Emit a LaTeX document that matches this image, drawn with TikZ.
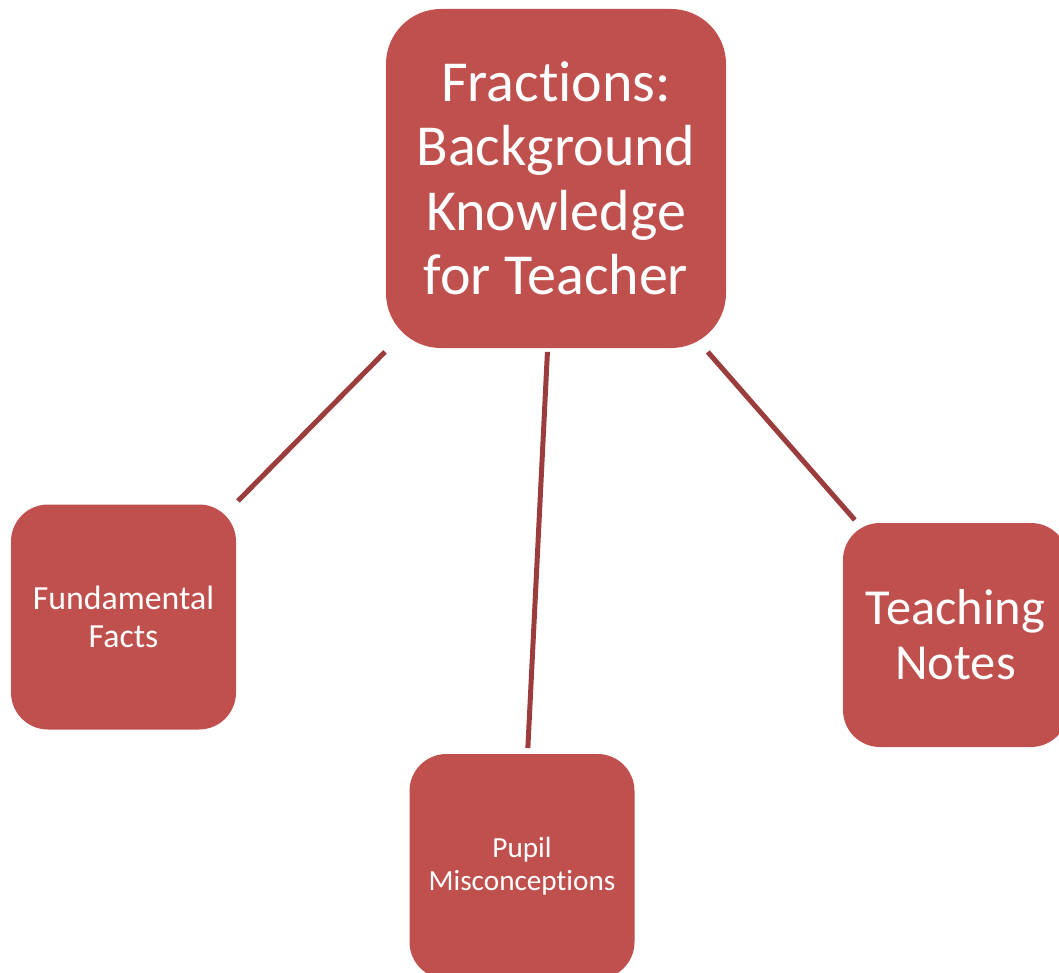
\documentclass[tikz,border=0pt]{standalone}
\usepackage{fontspec}
\setmainfont{Carlito}[Ligatures=NoCommon]
\definecolor{boxred}{HTML}{C0504D}
\definecolor{linered}{HTML}{9C3D3D}
\begin{document}
\begin{tikzpicture}[x=1pt,y=-1pt,
  box/.style={fill=boxred, draw=none, text=white, align=center, inner sep=0pt},
  bigbox/.style={box, minimum width=340pt, minimum height=339pt, rounded corners=55pt},
  smallbox/.style={box, minimum width=225pt, minimum height=225pt, rounded corners=37pt},
  link/.style={draw=linered, line width=5pt}]
\useasboundingbox (0,0) rectangle (1059,973);
\clip (0,0) rectangle (1059,973);
\node[bigbox, font=\fontsize{58}{64.5}\selectfont] (top) at (556,178.5) {Fractions:\\Background\\Knowledge\\for Teacher};
\node[smallbox, font=\fontsize{33.8}{38}\selectfont] (ff) at (123.5,617) {Fundamental\\Facts};
\node[smallbox, font=\fontsize{29.2}{33}\selectfont] (pm) at (522,866.5) {Pupil\\Misconceptions};
\node[smallbox, minimum height=224pt, font=\fontsize{50.5}{55}\selectfont] (tn) at (955.5,635) {Teaching\\Notes};
\draw[link, shorten <=243.5pt, shorten >=163pt] (top.center) -- (ff.center);
\draw[link, shorten <=173.6pt, shorten >=118.5pt] (top.center) -- (pm.center);
\draw[link, shorten <=230.5pt, shorten >=152.9pt] (top.center) -- (tn.center);
\end{tikzpicture}
\end{document}
